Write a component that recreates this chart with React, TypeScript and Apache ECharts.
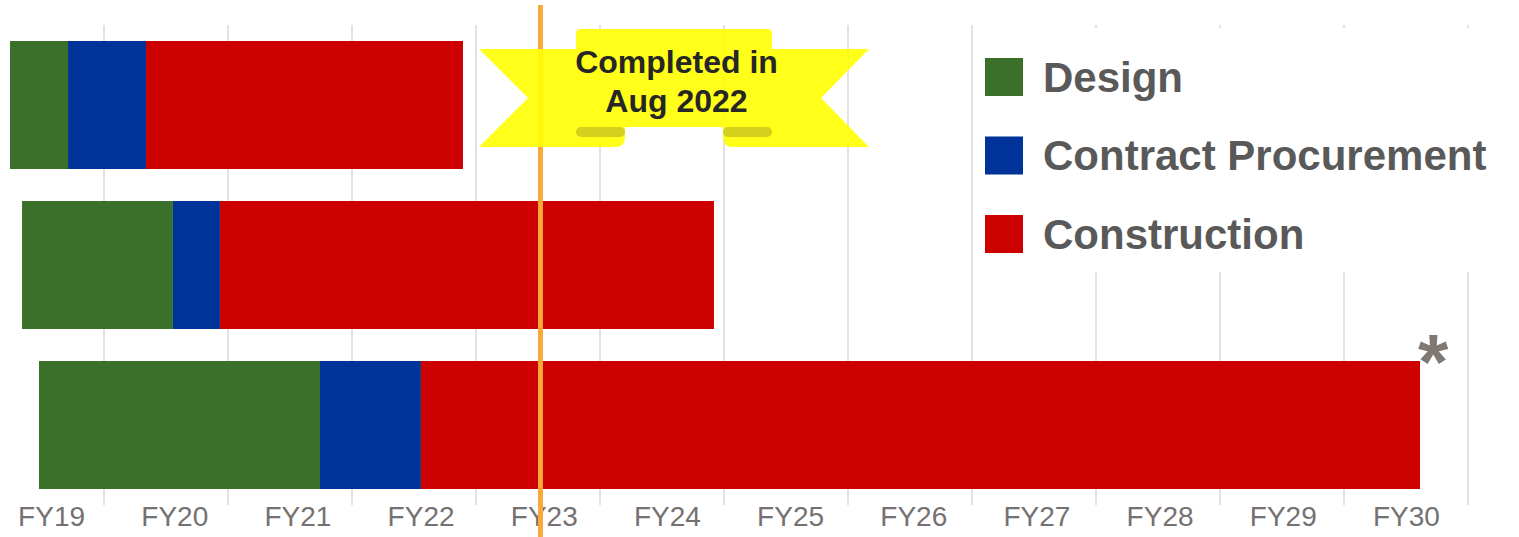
import React, { useEffect, useRef } from 'react';
import * as echarts from 'echarts';

// ---- data (years measured from the start of FY19) ----
const rows = ['Project 1', 'Project 2', 'Project 3'];
const fiscalYears = ['FY19', 'FY20', 'FY21', 'FY22', 'FY23', 'FY24', 'FY25', 'FY26', 'FY27', 'FY28', 'FY29', 'FY30'];
const startOffset = [0.242, 0.339, 0.476];
const design = [0.468, 1.217, 2.266];
const procurement = [0.629, 0.379, 0.814];
const construction = [2.556, 3.984, 8.057];
const completedAt = 4.52;
const bannerLines = ['Completed in', 'Aug 2022'];
const footnoteMark = '*';

const FONT = 'Arial, "Liberation Sans", sans-serif';
const SHIFT = 20; // chart canvas starts 20px left of the page edge

const RIBBON_D =
  'M479 49 L576 49 L576 34 Q576 29 581 29 L767 29 Q772 29 772 34 L772 49 L869 49 L821 98 L869 147 L733 147 Q723 147 723 137 L723 127 L625 127 L625 137 Q625 147 615 147 L479 147 L528 98 Z';

let registered = false;
function ensureShape() {
  if (registered) return;
  echarts.graphic.registerShape('ribbon', echarts.graphic.extendPath(RIBBON_D, {}) as any);
  registered = true;
}

export default function App() {
  const ref = useRef<HTMLDivElement>(null);

  useEffect(() => {
    if (!ref.current) return;
    ensureShape();
    const chart = echarts.init(ref.current, undefined, { renderer: 'svg' });

    const barW = 128;
    const names = ['Design', 'Contract Procurement', 'Construction'];
    const colors = ['#3A7029', '#003399', '#CD0000'];
    const values = [design, procurement, construction];

    chart.setOption({
      animation: false,
      grid: [
        { left: 0, top: 25, width: 1488, height: 480 },
        { left: 10, top: 25, width: 1478, height: 480 },
      ],
      xAxis: [
        {
          type: 'value',
          gridIndex: 0,
          min: 0,
          max: 12,
          interval: 1,
          axisLine: { show: false },
          axisTick: { show: false },
          axisLabel: { show: false },
          splitLine: { show: true, lineStyle: { color: '#D9D9D9', width: 1.5 } },
        },
        {
          type: 'category',
          gridIndex: 1,
          data: fiscalYears,
          axisLine: { show: false },
          axisTick: { show: false },
          splitLine: { show: false },
          axisLabel: { color: '#767171', fontSize: 28, fontFamily: FONT, margin: -3 },
        },
      ],
      yAxis: [
        { type: 'category', gridIndex: 0, data: rows, inverse: true, show: false },
        { type: 'value', gridIndex: 1, show: false },
      ],
      legend: {
        data: names,
        orient: 'vertical',
        left: 975 + SHIFT,
        top: 28,
        padding: [28, 60, 17, 10],
        backgroundColor: '#ffffff',
        itemWidth: 38,
        itemHeight: 38,
        itemGap: 36.5,
        icon: 'rect',
        z: 6,
        textStyle: {
          fontSize: 42,
          fontWeight: 'bold',
          color: '#595959',
          fontFamily: FONT,
          lineHeight: 38,
          padding: [0, 0, 0, 15],
        },
      },
      series: [
        {
          name: 'offset',
          type: 'bar',
          stack: 'total',
          xAxisIndex: 0,
          yAxisIndex: 0,
          barWidth: barW,
          silent: true,
          itemStyle: { color: 'rgba(0,0,0,0)' },
          data: startOffset,
        },
        ...names.map((n, i) => ({
          name: n,
          type: 'bar',
          stack: 'total',
          xAxisIndex: 0,
          yAxisIndex: 0,
          barWidth: barW,
          itemStyle: { color: colors[i] },
          data: values[i],
        })),
      ],
    });

    const lineX = chart.convertToPixel({ xAxisIndex: 0 }, completedAt) as number;
    const last = rows.length - 1;
    const endVal = startOffset[last] + design[last] + procurement[last] + construction[last];
    const endX = chart.convertToPixel({ xAxisIndex: 0 }, endVal) as number;
    const rowY = chart.convertToPixel({ yAxisIndex: 0 }, rows[last]) as number;
    const barTop = rowY - barW / 2;

    chart.setOption({
      graphic: [
        {
          type: 'line',
          z: 10,
          shape: { x1: lineX, y1: 5, x2: lineX, y2: 537 },
          style: { stroke: '#F9A83A', lineWidth: 5 },
        },
        {
          type: 'ribbon',
          z: 11,
          x: SHIFT,
          y: 0,
          style: { fill: 'rgba(255,255,0,0.9)' },
        },
        {
          type: 'rect',
          z: 12,
          shape: { x: 576 + SHIFT, y: 127, width: 49, height: 10, r: 5 },
          style: { fill: 'rgba(207,203,30,0.9)' },
        },
        {
          type: 'rect',
          z: 12,
          shape: { x: 723 + SHIFT, y: 127, width: 49, height: 10, r: 5 },
          style: { fill: 'rgba(207,203,30,0.9)' },
        },
        {
          type: 'text',
          z: 13,
          x: 676.5 + SHIFT,
          y: 61.5,
          style: {
            text: bannerLines[0],
            fill: '#262626',
            fontSize: 32,
            fontWeight: 'bold',
            fontFamily: FONT,
            align: 'center',
            verticalAlign: 'middle',
          },
        },
        {
          type: 'text',
          z: 13,
          x: 676.5 + SHIFT,
          y: 100.5,
          style: {
            text: bannerLines[1],
            fill: '#262626',
            fontSize: 32,
            fontWeight: 'bold',
            fontFamily: FONT,
            align: 'center',
            verticalAlign: 'middle',
          },
        },
        {
          type: 'text',
          z: 13,
          x: endX - 2,
          y: barTop + 1,
          style: {
            text: footnoteMark,
            fill: '#7F7873',
            fontSize: 78,
            fontWeight: 'bold',
            fontFamily: FONT,
            align: 'left',
            verticalAlign: 'middle',
          },
        },
      ],
    });

    return () => chart.dispose();
  }, []);

  return (
    <div
      ref={ref}
      style={{ position: 'fixed', left: -SHIFT, top: 0, width: 1519 + SHIFT, height: 537, background: '#fff' }}
    />
  );
}
